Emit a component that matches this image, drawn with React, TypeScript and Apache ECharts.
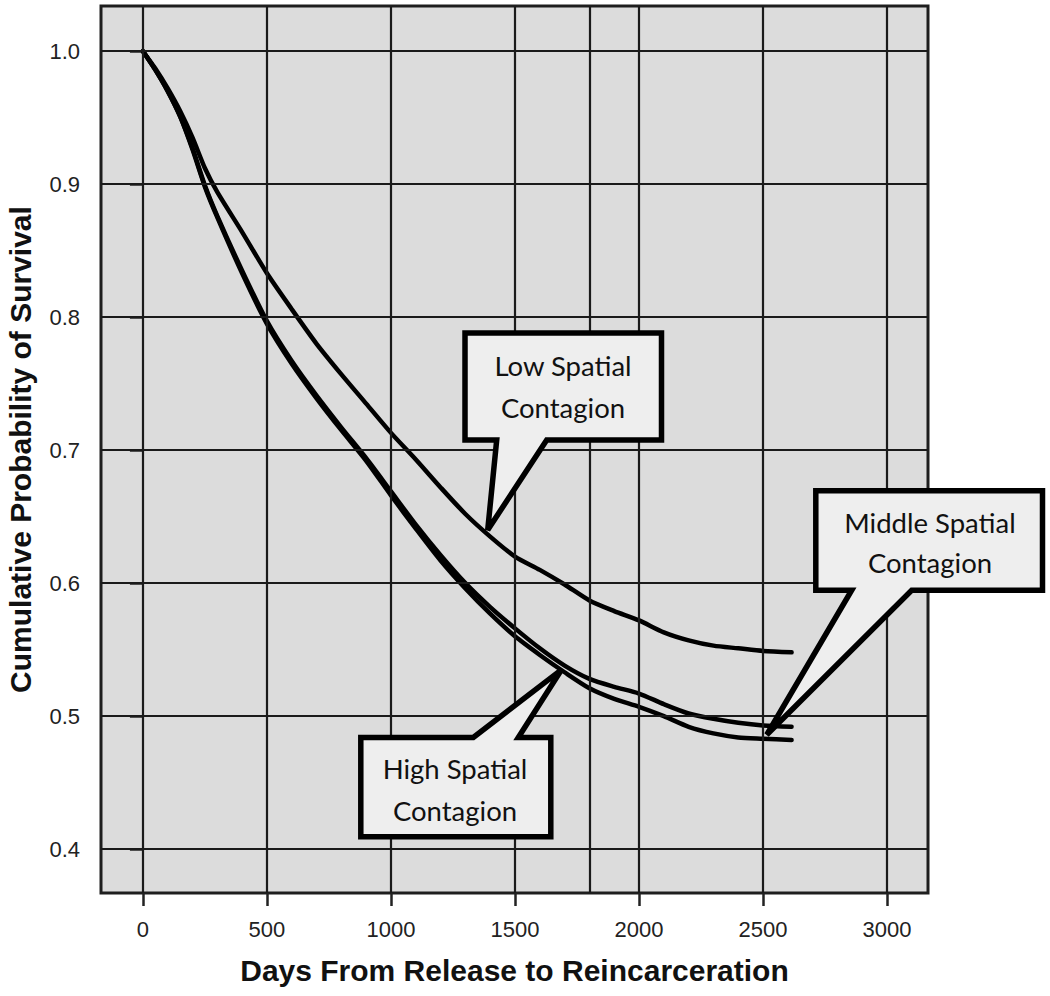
import React, { useEffect, useRef } from "react";
import * as echarts from "echarts";

// ---- data ----
const days = [0, 50, 100, 150, 200, 250, 300, 400, 500, 600, 700, 800, 900, 1000, 1100, 1200, 1300, 1400, 1500, 1600, 1700, 1800, 1900, 2000, 2100, 2200, 2300, 2400, 2500, 2615];
const lowSurv = [1.0, 0.987, 0.972, 0.955, 0.935, 0.912, 0.894, 0.864, 0.833, 0.806, 0.78, 0.757, 0.735, 0.713, 0.693, 0.672, 0.652, 0.635, 0.62, 0.61, 0.599, 0.587, 0.579, 0.572, 0.563, 0.557, 0.553, 0.551, 0.549, 0.548];
const middleSurv = [1.0, 0.986, 0.97, 0.951, 0.927, 0.899, 0.876, 0.835, 0.797, 0.767, 0.741, 0.717, 0.694, 0.669, 0.644, 0.621, 0.6, 0.582, 0.566, 0.551, 0.538, 0.528, 0.522, 0.517, 0.509, 0.502, 0.498, 0.495, 0.493, 0.492];
const highSurv = [1.0, 0.986, 0.97, 0.951, 0.926, 0.898, 0.875, 0.833, 0.795, 0.765, 0.739, 0.715, 0.692, 0.666, 0.641, 0.617, 0.596, 0.577, 0.56, 0.546, 0.533, 0.521, 0.513, 0.507, 0.5, 0.492, 0.487, 0.484, 0.483, 0.482];

const xTicks = [0, 500, 1000, 1500, 2000, 2500, 3000];
const yTicks = [0.4, 0.5, 0.6, 0.7, 0.8, 0.9, 1.0];
const refLineDays = [1800];

const xTitle = "Days From Release to Reincarceration";
const yTitle = "Cumulative Probability of Survival";

const calloutLines = [
  ["Low Spatial", "Contagion"],
  ["Middle Spatial", "Contagion"],
  ["High Spatial", "Contagion"],
];
const calloutTipDays = [1390, 2515, 1688];
const calloutTipSurv = [0.64, 0.486, 0.535];

export default function App() {
  const ref = useRef<HTMLDivElement>(null);

  useEffect(() => {
    document.body.style.margin = "0";
    const el = ref.current!;
    const chart = echarts.init(el, undefined, { renderer: "svg" });

    const curve = (vals: number[]) => ({
      type: "line",
      data: days.map((d, i) => [d, vals[i]]),
      showSymbol: false,
      smooth: 0.25,
      z: 3,
      lineStyle: { color: "#000", width: 4.5, join: "round", cap: "round" },
      silent: true,
    });

    const axisFont = "Liberation Sans, Arial, sans-serif";

    chart.setOption({
      animation: false,
      backgroundColor: "#ffffff",
      grid: {
        left: 101,
        right: 122,
        top: 6,
        bottom: 103,
        show: true,
        backgroundColor: "#dcdcdc",
        borderColor: "#1e1e1e",
        borderWidth: 3,
        containLabel: false,
        outerBoundsMode: "none",
      },
      xAxis: {
        type: "value",
        min: -169,
        max: 3165,
        axisLine: { show: false },
        splitLine: { show: false },
        axisTick: { show: true, customValues: xTicks, length: 13, lineStyle: { color: "#222", width: 2.5 } },
        axisLabel: {
          customValues: xTicks,
          margin: 25,
          fontSize: 22,
          color: "#222",
          fontFamily: axisFont,
          formatter: (v: number) => String(v),
        },
        name: xTitle,
        nameLocation: "middle",
        nameGap: 62,
        nameTextStyle: { fontSize: 30, fontWeight: "bold", color: "#111", fontFamily: axisFont },
      },
      yAxis: {
        type: "value",
        min: 0.367,
        max: 1.034,
        axisLine: { show: false },
        splitLine: { show: false },
        axisTick: { show: true, customValues: yTicks, length: 13, lineStyle: { color: "#222", width: 2.5 } },
        axisLabel: {
          customValues: yTicks,
          margin: 21,
          fontSize: 22,
          color: "#222",
          fontFamily: axisFont,
          formatter: (v: number) => v.toFixed(1),
        },
        name: yTitle,
        nameLocation: "middle",
        nameRotate: 90,
        nameGap: 66,
        nameTextStyle: { fontSize: 30, fontWeight: "bold", color: "#111", fontFamily: axisFont },
      },
      series: [
        {
          type: "line",
          data: [],
          z: 1,
          silent: true,
          markLine: {
            silent: true,
            symbol: ["none", "none"],
            label: { show: false },
            lineStyle: { color: "#1a1a1a", width: 2.2, type: "solid" },
            emphasis: { disabled: true },
            data: [
              ...xTicks.map((v) => ({ xAxis: v })),
              ...refLineDays.map((v) => ({ xAxis: v })),
              ...yTicks.map((v) => ({ yAxis: v })),
            ],
          },
        },
        curve(lowSurv),
        curve(middleSurv),
        curve(highSurv),
      ],
    });

    // callout boxes (layout in pixels), tips anchored to data via the chart's scales
    const tip = (i: number) => chart.convertToPixel({ gridIndex: 0 }, [calloutTipDays[i], calloutTipSurv[i]]) as number[];
    const t0 = tip(0), t1 = tip(1), t2 = tip(2);
    const boxStyle = { fill: "#eeeeee", stroke: "#000", lineWidth: 5.5, lineJoin: "miter", miterLimit: 10 };
    const txt = (s: string, x: number, y: number) => ({
      type: "text",
      x,
      y,
      z: 101,
      style: {
        text: s,
        fill: "#111",
        fontSize: 27.5,
        fontFamily: "Lato, 'Open Sans', sans-serif",
        textAlign: "center",
        align: "center",
        textVerticalAlign: "middle",
        verticalAlign: "middle",
      },
    });
    chart.setOption({
      graphic: [
        {
          type: "polygon",
          z: 100,
          shape: {
            points: [[465, 333], [661.5, 333], [661.5, 440], [546.7, 440], t0, [496.7, 440], [465, 440]],
          },
          style: boxStyle,
        },
        txt(calloutLines[0][0], 563, 365),
        txt(calloutLines[0][1], 563, 407),
        {
          type: "polygon",
          z: 100,
          shape: {
            points: [[815.8, 490.8], [1042.5, 490.8], [1042.5, 590.2], [911.7, 590.2], t1, [851.7, 590.2], [815.8, 590.2]],
          },
          style: boxStyle,
        },
        txt(calloutLines[1][0], 930, 522),
        txt(calloutLines[1][1], 930, 562),
        {
          type: "polygon",
          z: 100,
          shape: {
            points: [[360.8, 737.5], [473.3, 737.5], t2, [518.3, 737.5], [550.8, 737.5], [550.8, 836.8], [360.8, 836.8]],
          },
          style: boxStyle,
        },
        txt(calloutLines[2][0], 455, 768),
        txt(calloutLines[2][1], 455, 810),
      ],
    });

    return () => chart.dispose();
  }, []);

  return <div ref={ref} style={{ width: 1050, height: 996 }} />;
}
